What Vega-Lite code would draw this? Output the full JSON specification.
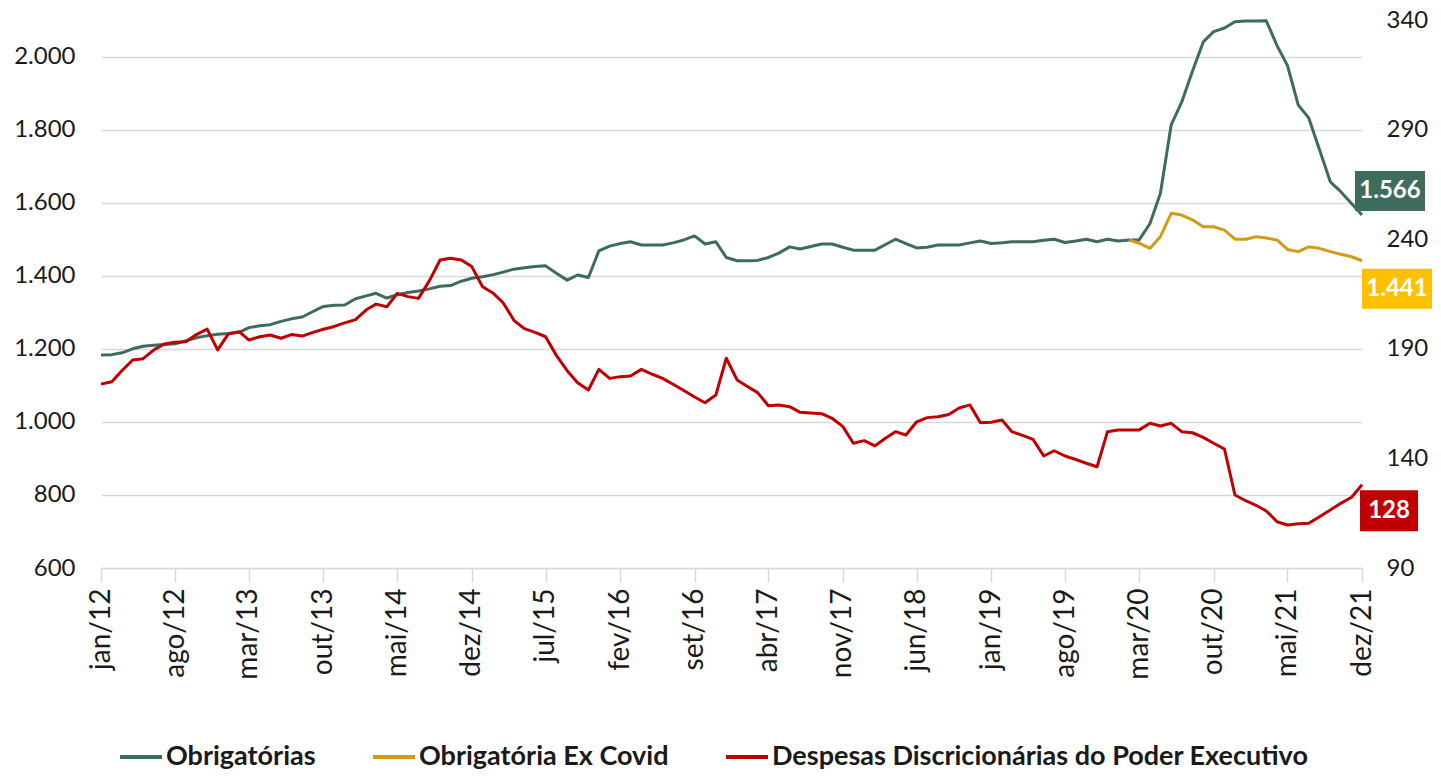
{
  "$schema": "https://vega.github.io/schema/vega-lite/v6.json",
  "width": 1261,
  "height": 548,
  "autosize": {"type": "none"},
  "padding": {"left": 101, "top": 20, "right": 79, "bottom": 210},
  "config": {
    "locale": {"number": {"decimal": ",", "thousands": ".", "grouping": [3], "currency": ["R$", ""]}},
    "view": {"stroke": null},
    "font": "Lato",
    "axis": {"labelFont": "Lato", "labelFontSize": 24, "labelColor": "#1a1a1a", "title": null},
    "legend": {"labelFont": "Lato"}
  },
  "data": {"values": [
    {"m": "2012-01", "obr": 1183, "dis": 173.9},
    {"m": "2012-02", "obr": 1184, "dis": 175.0},
    {"m": "2012-03", "obr": 1189, "dis": 180.0},
    {"m": "2012-04", "obr": 1200, "dis": 184.9},
    {"m": "2012-05", "obr": 1207, "dis": 185.5},
    {"m": "2012-06", "obr": 1210, "dis": 189.5},
    {"m": "2012-07", "obr": 1212, "dis": 192.2},
    {"m": "2012-08", "obr": 1214, "dis": 193.0},
    {"m": "2012-09", "obr": 1222, "dis": 193.2},
    {"m": "2012-10", "obr": 1230, "dis": 196.5},
    {"m": "2012-11", "obr": 1236, "dis": 199.0},
    {"m": "2012-12", "obr": 1240, "dis": 189.5},
    {"m": "2013-01", "obr": 1242, "dis": 196.8},
    {"m": "2013-02", "obr": 1245, "dis": 197.8},
    {"m": "2013-03", "obr": 1258, "dis": 194.0},
    {"m": "2013-04", "obr": 1263, "dis": 195.5},
    {"m": "2013-05", "obr": 1266, "dis": 196.3},
    {"m": "2013-06", "obr": 1275, "dis": 194.8},
    {"m": "2013-07", "obr": 1282, "dis": 196.5},
    {"m": "2013-08", "obr": 1287, "dis": 195.8},
    {"m": "2013-09", "obr": 1302, "dis": 197.5},
    {"m": "2013-10", "obr": 1316, "dis": 198.9},
    {"m": "2013-11", "obr": 1319, "dis": 200.2},
    {"m": "2013-12", "obr": 1320, "dis": 201.8},
    {"m": "2014-01", "obr": 1337, "dis": 203.3},
    {"m": "2014-02", "obr": 1345, "dis": 207.8},
    {"m": "2014-03", "obr": 1352, "dis": 210.4},
    {"m": "2014-04", "obr": 1339, "dis": 209.2},
    {"m": "2014-05", "obr": 1348, "dis": 215.3},
    {"m": "2014-06", "obr": 1354, "dis": 213.8},
    {"m": "2014-07", "obr": 1358, "dis": 213.0},
    {"m": "2014-08", "obr": 1364, "dis": 221.0},
    {"m": "2014-09", "obr": 1371, "dis": 230.5},
    {"m": "2014-10", "obr": 1373, "dis": 231.3},
    {"m": "2014-11", "obr": 1385, "dis": 230.5},
    {"m": "2014-12", "obr": 1393, "dis": 227.5},
    {"m": "2015-01", "obr": 1397, "dis": 218.3},
    {"m": "2015-02", "obr": 1403, "dis": 215.3},
    {"m": "2015-03", "obr": 1410, "dis": 211.0},
    {"m": "2015-04", "obr": 1418, "dis": 203.0},
    {"m": "2015-05", "obr": 1422, "dis": 199.2},
    {"m": "2015-06", "obr": 1425, "dis": 197.5},
    {"m": "2015-07", "obr": 1427, "dis": 195.5},
    {"m": "2015-08", "obr": 1407, "dis": 187.0},
    {"m": "2015-09", "obr": 1388, "dis": 180.0},
    {"m": "2015-10", "obr": 1402, "dis": 174.5},
    {"m": "2015-11", "obr": 1395, "dis": 171.2},
    {"m": "2015-12", "obr": 1468, "dis": 180.6},
    {"m": "2016-01", "obr": 1481, "dis": 176.5},
    {"m": "2016-02", "obr": 1488, "dis": 177.3},
    {"m": "2016-03", "obr": 1493, "dis": 177.6},
    {"m": "2016-04", "obr": 1484, "dis": 180.6},
    {"m": "2016-05", "obr": 1484, "dis": 178.5},
    {"m": "2016-06", "obr": 1484, "dis": 176.5},
    {"m": "2016-07", "obr": 1490, "dis": 173.8},
    {"m": "2016-08", "obr": 1498, "dis": 171.0},
    {"m": "2016-09", "obr": 1509, "dis": 168.0},
    {"m": "2016-10", "obr": 1487, "dis": 165.4},
    {"m": "2016-11", "obr": 1493, "dis": 168.9},
    {"m": "2016-12", "obr": 1450, "dis": 185.7},
    {"m": "2017-01", "obr": 1441, "dis": 175.8},
    {"m": "2017-02", "obr": 1441, "dis": 172.7},
    {"m": "2017-03", "obr": 1442, "dis": 170.0},
    {"m": "2017-04", "obr": 1450, "dis": 164.0},
    {"m": "2017-05", "obr": 1462, "dis": 164.4},
    {"m": "2017-06", "obr": 1479, "dis": 163.6},
    {"m": "2017-07", "obr": 1473, "dis": 161.0},
    {"m": "2017-08", "obr": 1480, "dis": 160.7},
    {"m": "2017-09", "obr": 1487, "dis": 160.4},
    {"m": "2017-10", "obr": 1487, "dis": 158.3},
    {"m": "2017-11", "obr": 1478, "dis": 154.5},
    {"m": "2017-12", "obr": 1470, "dis": 146.9},
    {"m": "2018-01", "obr": 1470, "dis": 148.1},
    {"m": "2018-02", "obr": 1470, "dis": 145.7},
    {"m": "2018-03", "obr": 1484, "dis": 149.0},
    {"m": "2018-04", "obr": 1500, "dis": 152.2},
    {"m": "2018-05", "obr": 1488, "dis": 150.7},
    {"m": "2018-06", "obr": 1476, "dis": 156.7},
    {"m": "2018-07", "obr": 1478, "dis": 158.6},
    {"m": "2018-08", "obr": 1484, "dis": 159.0},
    {"m": "2018-09", "obr": 1484, "dis": 160.0},
    {"m": "2018-10", "obr": 1484, "dis": 163.0},
    {"m": "2018-11", "obr": 1490, "dis": 164.4},
    {"m": "2018-12", "obr": 1495, "dis": 156.3},
    {"m": "2019-01", "obr": 1488, "dis": 156.5},
    {"m": "2019-02", "obr": 1490, "dis": 157.5},
    {"m": "2019-03", "obr": 1493, "dis": 152.2},
    {"m": "2019-04", "obr": 1493, "dis": 150.5},
    {"m": "2019-05", "obr": 1493, "dis": 148.7},
    {"m": "2019-06", "obr": 1497, "dis": 141.1},
    {"m": "2019-07", "obr": 1500, "dis": 143.5},
    {"m": "2019-08", "obr": 1491, "dis": 141.1},
    {"m": "2019-09", "obr": 1495, "dis": 139.5},
    {"m": "2019-10", "obr": 1500, "dis": 137.8},
    {"m": "2019-11", "obr": 1493, "dis": 136.2},
    {"m": "2019-12", "obr": 1500, "dis": 152.2},
    {"m": "2020-01", "obr": 1495, "dis": 153.0},
    {"m": "2020-02", "obr": 1498, "dis": 153.0, "exc": 1498},
    {"m": "2020-03", "obr": 1498, "dis": 153.0, "exc": 1489},
    {"m": "2020-04", "obr": 1543, "dis": 156.0, "exc": 1475},
    {"m": "2020-05", "obr": 1626, "dis": 154.8, "exc": 1507},
    {"m": "2020-06", "obr": 1813, "dis": 156.0, "exc": 1571},
    {"m": "2020-07", "obr": 1875, "dis": 152.2, "exc": 1566},
    {"m": "2020-08", "obr": 1960, "dis": 151.7, "exc": 1553},
    {"m": "2020-09", "obr": 2040, "dis": 149.6, "exc": 1534},
    {"m": "2020-10", "obr": 2068, "dis": 146.9, "exc": 1534},
    {"m": "2020-11", "obr": 2078, "dis": 144.3, "exc": 1525},
    {"m": "2020-12", "obr": 2095, "dis": 123.3, "exc": 1500},
    {"m": "2021-01", "obr": 2097, "dis": 120.7, "exc": 1500},
    {"m": "2021-02", "obr": 2097, "dis": 118.5, "exc": 1507},
    {"m": "2021-03", "obr": 2098, "dis": 116.0, "exc": 1503},
    {"m": "2021-04", "obr": 2030, "dis": 111.1, "exc": 1498},
    {"m": "2021-05", "obr": 1975, "dis": 109.6, "exc": 1472},
    {"m": "2021-06", "obr": 1867, "dis": 110.2, "exc": 1466},
    {"m": "2021-07", "obr": 1832, "dis": 110.4, "exc": 1479},
    {"m": "2021-08", "obr": 1745, "dis": 113.4, "exc": 1475},
    {"m": "2021-09", "obr": 1657, "dis": 116.5, "exc": 1466},
    {"m": "2021-10", "obr": 1630, "dis": 119.5, "exc": 1459},
    {"m": "2021-11", "obr": 1598, "dis": 122.3, "exc": 1452},
    {"m": "2021-12", "obr": 1566, "dis": 128.0, "exc": 1441}
  ]},
  "encoding": {
    "x": {
      "field": "m",
      "type": "temporal",
      "scale": {
        "type": "utc",
        "nice": false,
        "domain": [
          {"year": 2012, "month": 1, "date": 1, "utc": true},
          {"year": 2021, "month": 12, "date": 1, "utc": true}
        ]
      },
      "axis": {
        "title": null,
        "grid": false,
        "domain": true,
        "domainColor": "#d9d9d9",
        "domainWidth": 1.5,
        "ticks": true,
        "tickColor": "#d9d9d9",
        "tickWidth": 1.5,
        "tickSize": 14,
        "labelAngle": -90,
        "labelPadding": 6,
        "labelFontSize": 28,
        "labelOverlap": false,
        "labelFlush": false,
        "values": [
          {"year": 2012, "month": 1, "date": 1, "utc": true},
          {"year": 2012, "month": 8, "date": 1, "utc": true},
          {"year": 2013, "month": 3, "date": 1, "utc": true},
          {"year": 2013, "month": 10, "date": 1, "utc": true},
          {"year": 2014, "month": 5, "date": 1, "utc": true},
          {"year": 2014, "month": 12, "date": 1, "utc": true},
          {"year": 2015, "month": 7, "date": 1, "utc": true},
          {"year": 2016, "month": 2, "date": 1, "utc": true},
          {"year": 2016, "month": 9, "date": 1, "utc": true},
          {"year": 2017, "month": 4, "date": 1, "utc": true},
          {"year": 2017, "month": 11, "date": 1, "utc": true},
          {"year": 2018, "month": 6, "date": 1, "utc": true},
          {"year": 2019, "month": 1, "date": 1, "utc": true},
          {"year": 2019, "month": 8, "date": 1, "utc": true},
          {"year": 2020, "month": 3, "date": 1, "utc": true},
          {"year": 2020, "month": 10, "date": 1, "utc": true},
          {"year": 2021, "month": 5, "date": 1, "utc": true},
          {"year": 2021, "month": 12, "date": 1, "utc": true}
        ],
        "labelExpr": "['jan','fev','mar','abr','mai','jun','jul','ago','set','out','nov','dez'][utcmonth(datum.value)] + '/' + utcFormat(datum.value, '%y')"
      }
    }
  },
  "layer": [
    {
      "encoding": {
        "y": {
          "type": "quantitative",
          "scale": {"domain": [600, 2100], "nice": false, "zero": false}
        }
      },
      "layer": [
        {
          "mark": {"type": "line", "strokeWidth": 3, "strokeJoin": "round"},
          "encoding": {
            "y": {
              "field": "obr",
              "type": "quantitative",
              "scale": {"domain": [600, 2100], "nice": false, "zero": false},
              "axis": {
                "orient": "left",
                "title": null,
                "domain": false,
                "ticks": false,
                "grid": true,
                "gridColor": "#d9d9d9",
                "gridWidth": 1.5,
                "labelPadding": 26,
                "values": [600, 800, 1000, 1200, 1400, 1600, 1800, 2000],
                "format": ",.0f"
              }
            },
            "color": {
              "datum": "Obrigatórias",
              "type": "nominal",
              "scale": {
                "domain": ["Obrigatórias", "Obrigatória Ex Covid", "Despesas Discricionárias do Poder Executivo"],
                "range": ["#3d6b5e", "#d09c18", "#c00000"]
              },
              "legend": {
                "title": null,
                "orient": "none",
                "direction": "horizontal",
                "legendX": 17,
                "legendY": 714,
                "symbolType": "stroke",
                "symbolStrokeWidth": 4,
                "symbolSize": 1764,
                "labelFont": "Lato",
                "labelFontWeight": "bold",
                "labelFontSize": 27,
                "labelColor": "#1a1a1a",
                "labelLimit": 900,
                "labelOffset": 2,
                "columnPadding": 49
              }
            }
          }
        },
        {
          "mark": {"type": "line", "strokeWidth": 3, "strokeJoin": "round"},
          "encoding": {
            "y": {"field": "exc", "type": "quantitative"},
            "color": {"datum": "Obrigatória Ex Covid", "type": "nominal"}
          }
        },
        {
          "transform": [{"filter": "utcyear(datum.m) == 2021 && utcmonth(datum.m) == 11"}],
          "mark": {
            "type": "point",
            "shape": "M-0.7,-4.4L6.3,-4.4L6.3,-0.4L-0.7,-0.4Z",
            "size": 400,
            "filled": true,
            "opacity": 1,
            "strokeWidth": 0,
            "color": "#3d6b5e"
          },
          "encoding": {"y": {"field": "obr", "type": "quantitative"}}
        },
        {
          "transform": [{"filter": "utcyear(datum.m) == 2021 && utcmonth(datum.m) == 11"}],
          "mark": {
            "type": "text",
            "dx": 28,
            "dy": -24,
            "align": "center",
            "baseline": "middle",
            "font": "Lato",
            "fontWeight": "bold",
            "fontSize": 24,
            "color": "#ffffff"
          },
          "encoding": {
            "y": {"field": "obr", "type": "quantitative"},
            "text": {"field": "obr", "type": "quantitative", "format": ",.0f"}
          }
        },
        {
          "transform": [{"filter": "utcyear(datum.m) == 2021 && utcmonth(datum.m) == 11"}],
          "mark": {
            "type": "point",
            "shape": "M0.0,0.8L7.0,0.8L7.0,4.8L0.0,4.8Z",
            "size": 400,
            "filled": true,
            "opacity": 1,
            "strokeWidth": 0,
            "color": "#ffc000"
          },
          "encoding": {"y": {"field": "exc", "type": "quantitative"}}
        },
        {
          "transform": [{"filter": "utcyear(datum.m) == 2021 && utcmonth(datum.m) == 11"}],
          "mark": {
            "type": "text",
            "dx": 35,
            "dy": 28,
            "align": "center",
            "baseline": "middle",
            "font": "Lato",
            "fontWeight": "bold",
            "fontSize": 24,
            "color": "#ffffff"
          },
          "encoding": {
            "y": {"field": "exc", "type": "quantitative"},
            "text": {"field": "exc", "type": "quantitative", "format": ",.0f"}
          }
        }
      ]
    },
    {
      "encoding": {
        "y": {
          "field": "dis",
          "type": "quantitative",
          "scale": {"domain": [90, 340], "nice": false, "zero": false},
          "axis": {
            "orient": "right",
            "title": null,
            "domain": false,
            "ticks": false,
            "grid": false,
            "labelPadding": 24,
            "values": [90, 140, 190, 240, 290, 340]
          }
        }
      },
      "layer": [
        {
          "mark": {"type": "line", "strokeWidth": 3, "strokeJoin": "round"},
          "encoding": {
            "color": {"datum": "Despesas Discricionárias do Poder Executivo", "type": "nominal"}
          }
        },
        {
          "transform": [{"filter": "utcyear(datum.m) == 2021 && utcmonth(datum.m) == 11"}],
          "mark": {
            "type": "point",
            "shape": "M-0.2,0.55L5.6,0.55L5.6,4.65L-0.2,4.65Z",
            "size": 400,
            "filled": true,
            "opacity": 1,
            "strokeWidth": 0,
            "color": "#c00000"
          }
        },
        {
          "transform": [{"filter": "utcyear(datum.m) == 2021 && utcmonth(datum.m) == 11"}],
          "mark": {
            "type": "text",
            "dx": 27,
            "dy": 26,
            "align": "center",
            "baseline": "middle",
            "font": "Lato",
            "fontWeight": "bold",
            "fontSize": 24,
            "color": "#ffffff"
          },
          "encoding": {
            "text": {"field": "dis", "type": "quantitative", "format": ".0f"}
          }
        }
      ]
    }
  ],
  "resolve": {"scale": {"y": "independent"}}
}
